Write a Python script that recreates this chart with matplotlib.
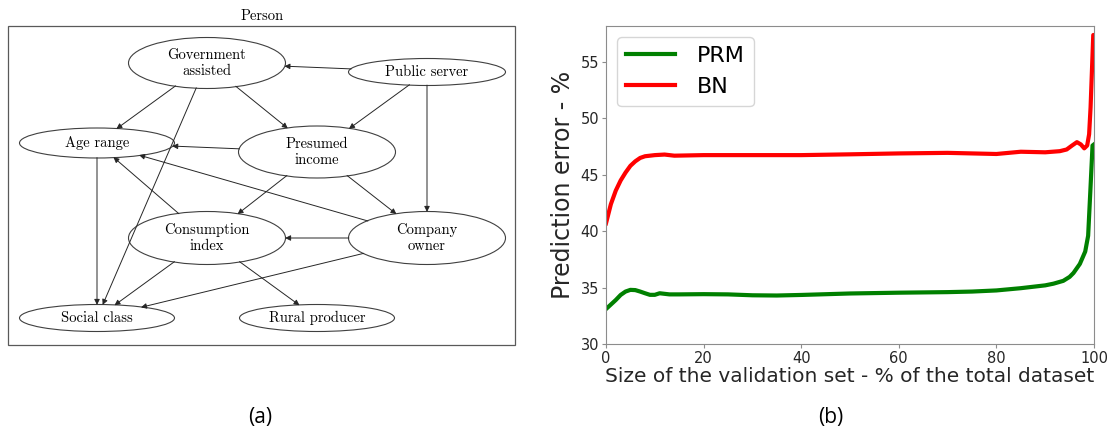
import matplotlib
matplotlib.use('Agg')
import matplotlib.pyplot as plt
from matplotlib.patches import Ellipse, Rectangle, FancyArrowPatch

# ---- panel (a): graph nodes (centre x, centre y, width, height in pixels) ----
node_names = ['Government\nassisted', 'Public server', 'Age range', 'Presumed\nincome',
              'Consumption\nindex', 'Company\nowner', 'Social class', 'Rural producer']
node_x = [207, 427, 97, 317, 207, 427, 97, 317]
node_y = [63, 72, 143, 152, 238, 238, 318, 318]
node_w = [157, 157, 155, 157, 157, 157, 155, 155]
node_h = [51, 27, 30, 52, 53, 53, 27, 27]

# edges as (from, to) node indices
edges = [(1, 0), (1, 3), (1, 5), (0, 2), (0, 3), (0, 6), (3, 2), (3, 4), (3, 5),
         (4, 2), (5, 2), (5, 4), (5, 6), (4, 6), (4, 7), (2, 6)]

# ---- panel (b): prediction error curves ----
x_prm = [0, 1, 2, 3, 4, 5, 6, 7, 8, 9, 10, 11, 12, 13, 15, 20, 25, 30, 35, 40, 50,
         60, 70, 75, 80, 85, 88, 90, 91.7, 93.7, 95, 95.8, 97.1, 98.2, 98.8, 99.3, 99.7, 100]
prm = [33.1, 33.5, 33.9, 34.35, 34.65, 34.8, 34.78, 34.65, 34.5, 34.36, 34.36, 34.5, 34.45, 34.4,
       34.4, 34.42, 34.4, 34.32, 34.3, 34.35, 34.48, 34.55, 34.6, 34.65, 34.75, 34.95, 35.1, 35.2,
       35.35, 35.6, 35.95, 36.3, 37.1, 38.2, 39.6, 44.0, 47.6, 47.7]
x_bn = [0, 1, 2, 3, 4, 5, 6, 7, 8, 10, 12, 14, 20, 30, 40, 50, 60, 70, 80, 85, 90, 93,
        94.4, 95.5, 96.5, 97.3, 98, 98.6, 99.0, 99.3, 99.6, 99.85, 100]
bn = [40.7, 42.4, 43.6, 44.5, 45.2, 45.8, 46.2, 46.5, 46.65, 46.75, 46.8, 46.7, 46.75, 46.75,
      46.75, 46.82, 46.9, 46.95, 46.85, 47.05, 47.0, 47.1, 47.25, 47.6, 47.9, 47.7, 47.35, 47.6,
      48.6, 51.0, 54.5, 57.4, 57.4]

W, H = 1113, 433
fig = plt.figure(figsize=(W / 100, H / 100), dpi=100)

# ---------------- (a) ----------------
ax_a = fig.add_axes([0, 0, 540 / W, 1])
ax_a.set_xlim(0, 540)
ax_a.set_ylim(H, 0)
ax_a.axis('off')

ax_a.add_patch(Rectangle((8, 26), 507, 319, fill=False, edgecolor='0.35', lw=0.9))
ax_a.text(262, 16, 'Person', family='cmr10', fontsize=10.5, ha='center', va='center')

ells = []
for name, cx, cy, w, h in zip(node_names, node_x, node_y, node_w, node_h):
    e = Ellipse((cx, cy), w, h, facecolor='white', edgecolor='0.25', lw=0.8)
    ax_a.add_patch(e)
    ells.append(e)
    ax_a.text(cx, cy, name, family='cmr10', fontsize=10.5, ha='center', va='center',
              linespacing=1.15)

for a, b in edges:
    arr = FancyArrowPatch((node_x[a], node_y[a]), (node_x[b], node_y[b]),
                          patchA=ells[a], patchB=ells[b], arrowstyle='-|>',
                          mutation_scale=8, lw=0.7, color='0.15', shrinkA=0, shrinkB=0)
    ax_a.add_patch(arr)

fig.text(260 / W, 1 - 418 / H, '(a)', family='Open Sans', fontsize=15, ha='center', va='center')

# ---------------- (b) ----------------
ax_b = fig.add_axes([606 / W, (H - 344) / H, (1094 - 606) / W, (344 - 26) / H])
ax_b.plot(x_prm, prm, color='green', lw=3, label='PRM')
ax_b.plot(x_bn, bn, color='red', lw=3, label='BN')
ax_b.set_xlim(0, 100)
ax_b.set_ylim(30, 58.2)
ax_b.set_xticks([0, 20, 40, 60, 80, 100])
ax_b.set_yticks([30, 35, 40, 45, 50, 55])
for s in ax_b.spines.values():
    s.set_color('0.55')
ax_b.tick_params(colors='0.55', labelcolor='0.15', labelsize=10.5, length=3, pad=2)
ax_b.set_xlabel('Size of the validation set - % of the total dataset', fontsize=14.5,
                color='0.15', labelpad=1)
ax_b.set_ylabel('Prediction error - %', fontsize=17, color='0.15', labelpad=4)
ax_b.legend(loc='upper left', fontsize=16, handlelength=2.2, handletextpad=1.0)

fig.text(831 / W, 1 - 418 / H, '(b)', family='Open Sans', fontsize=15, ha='center', va='center')

fig.savefig('out.png', dpi=100)
